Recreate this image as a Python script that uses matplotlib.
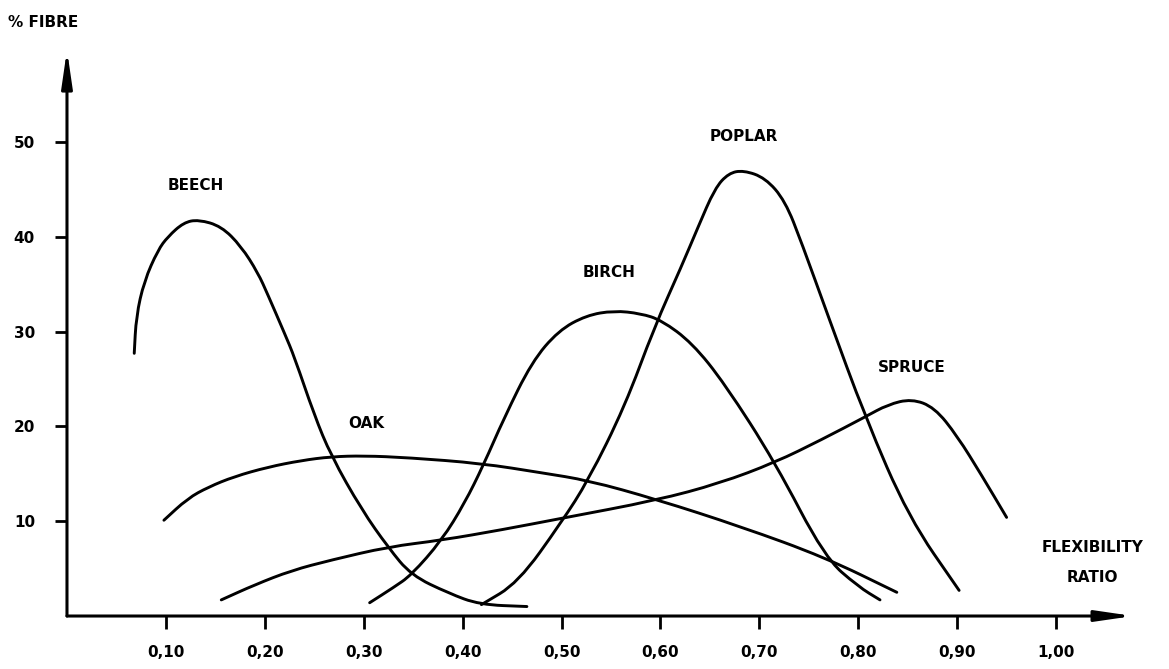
import matplotlib.pyplot as plt
from matplotlib.path import Path
from matplotlib.patches import PathPatch

# Points (flexibility ratio, % fibre)
beech_x = [0.068, 0.070, 0.078, 0.092, 0.102, 0.118, 0.133, 0.156, 0.176, 0.193, 0.203, 0.220,
           0.230, 0.250, 0.267, 0.298, 0.325, 0.348, 0.386, 0.417, 0.465]
beech_y = [27.7, 31.6, 35.3, 38.6, 40.0, 41.5, 41.8, 41.1, 39.0, 36.2, 33.9, 29.8,
           27.3, 21.2, 16.9, 11.2, 7.2, 4.3, 2.4, 1.2, 1.0]

oak_x = [0.098, 0.122, 0.143, 0.169, 0.203, 0.237, 0.267, 0.300, 0.345, 0.419, 0.480, 0.527,
         0.596, 0.682, 0.766, 0.839]
oak_y = [10.1, 12.4, 13.6, 14.7, 15.7, 16.4, 16.8, 16.9, 16.7, 16.1, 15.1, 14.3,
         12.3, 9.4, 6.2, 2.5]

birch_x = [0.306, 0.330, 0.348, 0.379, 0.402, 0.421, 0.442, 0.470, 0.497, 0.525, 0.553, 0.580,
           0.601, 0.632, 0.665, 0.716, 0.766, 0.800, 0.822]
birch_y = [1.4, 3.0, 4.3, 8.0, 11.9, 15.9, 20.9, 26.8, 30.1, 31.7, 32.2, 31.9,
           31.2, 28.8, 24.5, 16.2, 6.2, 3.1, 1.7]

poplar_x = [0.419, 0.456, 0.500, 0.527, 0.564, 0.594, 0.621, 0.638, 0.655, 0.669, 0.684, 0.706,
            0.726, 0.743, 0.770, 0.807, 0.851, 0.902]
poplar_y = [1.2, 3.5, 9.9, 14.3, 22.1, 30.5, 36.8, 41.0, 45.1, 46.7, 47.0, 46.2,
            43.8, 39.3, 31.5, 21.0, 10.4, 2.7]

spruce_x = [0.156, 0.190, 0.227, 0.267, 0.325, 0.379, 0.440, 0.500, 0.596, 0.660, 0.716, 0.763,
            0.807, 0.830, 0.854, 0.877, 0.900, 0.925, 0.950]
spruce_y = [1.7, 3.3, 4.8, 5.9, 7.3, 8.0, 9.1, 10.3, 12.2, 14.0, 16.2, 18.6,
            21.0, 22.3, 22.9, 22.0, 19.0, 14.8, 10.4]

species = ['BEECH', 'OAK', 'BIRCH', 'POPLAR', 'SPRUCE']
label_pos = [(0.13, 45.4), (0.303, 20.3), (0.548, 36.2), (0.684, 50.6), (0.854, 26.2)]

x_ticks = [0.10, 0.20, 0.30, 0.40, 0.50, 0.60, 0.70, 0.80, 0.90, 1.00]
x_tick_labels = ['0,10', '0,20', '0,30', '0,40', '0,50', '0,60', '0,70', '0,80', '0,90', '1,00']
y_ticks = [10, 20, 30, 40, 50]


def main():
    fig = plt.figure(figsize=(11.69, 6.69), dpi=100)
    ax = fig.add_axes([0.0573, 0.0792, 0.918, 0.8505])
    ax.set_xlim(0, 1.085)
    ax.set_ylim(0, 60)

    curves = [(beech_x, beech_y), (oak_x, oak_y), (birch_x, birch_y),
              (poplar_x, poplar_y), (spruce_x, spruce_y)]
    for (xs, ys), name, pos in zip(curves, species, label_pos):
        ax.add_patch(smooth_patch(xs, ys))
        ax.text(pos[0], pos[1], name, ha='center', va='center', fontsize=11, fontweight='bold')

    draw_axes(ax, fig)
    fig.savefig('out.png', dpi=100)


# Hand-drawn look: quadratic bezier through the midpoints, read points as control points
def smooth_patch(xs, ys):
    pts = list(zip(xs, ys))
    verts = [pts[0]]
    codes = [Path.MOVETO]
    mid = ((pts[0][0] + pts[1][0]) / 2, (pts[0][1] + pts[1][1]) / 2)
    verts.append(mid)
    codes.append(Path.LINETO)
    for i in range(1, len(pts) - 1):
        mid = ((pts[i][0] + pts[i + 1][0]) / 2, (pts[i][1] + pts[i + 1][1]) / 2)
        verts += [pts[i], mid]
        codes += [Path.CURVE3, Path.CURVE3]
    verts.append(pts[-1])
    codes.append(Path.LINETO)
    return PathPatch(Path(verts, codes), fill=False, edgecolor='black', lw=2.1,
                     capstyle='round', joinstyle='round')


# Axis arrows, ticks and labels in the style of the scan
def draw_axes(ax, fig):
    for s in ax.spines.values():
        s.set_visible(False)
    arrow = dict(arrowstyle='-|>,head_length=1.1,head_width=0.16', lw=2.2, color='black',
                 mutation_scale=20, shrinkA=0, shrinkB=0)
    ax.annotate('', xy=(0, 59.7), xytext=(0, 0), arrowprops=arrow, annotation_clip=False)
    ax.annotate('', xy=(1.078, 0), xytext=(0, 0), arrowprops=arrow, annotation_clip=False)

    ax.set_xticks(x_ticks)
    ax.set_xticklabels(x_tick_labels)
    ax.set_yticks(y_ticks)
    ax.tick_params(direction='out', length=9, width=2, labelsize=11, color='black')
    ax.tick_params(axis='x', pad=12)
    ax.tick_params(axis='y', pad=14)
    for lbl in ax.get_xticklabels() + ax.get_yticklabels():
        lbl.set_fontweight('bold')

    ax.text(1.037, 7.2, 'FLEXIBILITY', ha='center', va='center', fontsize=11, fontweight='bold')
    ax.text(1.037, 4.1, 'RATIO', ha='center', va='center', fontsize=11, fontweight='bold')
    fig.text(0.007, 0.967, '% FIBRE', ha='left', va='center', fontsize=11, fontweight='bold')


if __name__ == '__main__':
    main()
